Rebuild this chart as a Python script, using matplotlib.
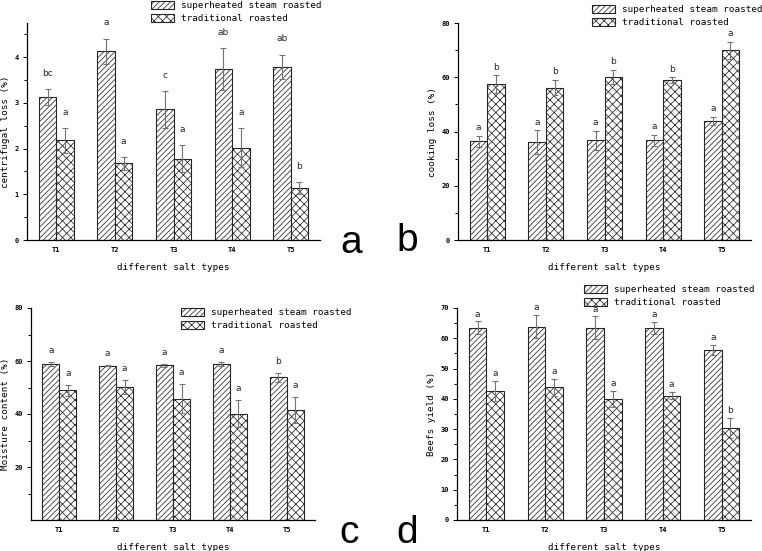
import matplotlib.pyplot as plt
import numpy as np

plt.rcParams['hatch.linewidth'] = 0.55
plt.rcParams['hatch.color'] = '0.3'

groups = ['T1', 'T2', 'T3', 'T4', 'T5']
series_names = ['superheated steam roasted', 'traditional roasted']

# a - centrifugal loss
cent_ss = [3.13, 4.13, 2.86, 3.75, 3.79]
cent_ss_err = [0.17, 0.28, 0.40, 0.46, 0.27]
cent_tr = [2.18, 1.68, 1.78, 2.02, 1.14]
cent_tr_err = [0.27, 0.14, 0.30, 0.43, 0.13]
cent_ss_sig = ['bc', 'a', 'c', 'ab', 'ab']
cent_tr_sig = ['a', 'a', 'a', 'a', 'b']

# b - cooking loss
cook_ss = [36.4, 36.1, 36.7, 36.7, 43.9]
cook_ss_err = [2.1, 4.4, 3.5, 2.1, 1.6]
cook_tr = [57.5, 56.2, 60.2, 59.0, 69.9]
cook_tr_err = [3.3, 2.9, 2.6, 1.0, 3.2]
cook_ss_sig = ['a', 'a', 'a', 'a', 'a']
cook_tr_sig = ['b', 'b', 'b', 'b', 'a']

# c - moisture content
moist_ss = [58.9, 58.2, 58.4, 58.9, 53.8]
moist_ss_err = [0.6, 0.2, 0.5, 0.8, 1.7]
moist_tr = [49.0, 50.2, 45.8, 40.1, 41.5]
moist_tr_err = [2.1, 2.7, 5.4, 5.1, 4.9]
moist_ss_sig = ['a', 'a', 'a', 'a', 'b']
moist_tr_sig = ['a', 'a', 'a', 'a', 'a']

# d - beefs yield
yield_ss = [63.5, 63.8, 63.4, 63.4, 56.2]
yield_ss_err = [2.1, 3.8, 3.8, 2.1, 1.7]
yield_tr = [42.7, 43.8, 40.0, 41.1, 30.3]
yield_tr_err = [3.3, 2.7, 2.6, 1.2, 3.3]
yield_ss_sig = ['a', 'a', 'a', 'a', 'a']
yield_tr_sig = ['a', 'a', 'a', 'a', 'b']

W, H = 762, 551
fig = plt.figure(figsize=(W / 100, H / 100), dpi=100)
MONO = 'DejaVu Sans Mono'


def px_axes(left, top, right, bottom):
    return fig.add_axes([left / W, 1 - bottom / H, (right - left) / W, (bottom - top) / H])


def panel(ax, ss, ss_err, tr, tr_err, ss_sig, tr_sig, ylabel, ylim, major, minor,
          leg_xy, sig_off):
    x = np.arange(1, len(groups) + 1)
    bw = 0.30
    b1 = ax.bar(x - bw / 2, ss, bw, color='white', edgecolor='0.15', linewidth=0.8,
                hatch='//////', label=series_names[0], zorder=2)
    b2 = ax.bar(x + bw / 2, tr, bw, color='white', edgecolor='0.15', linewidth=0.8,
                hatch='xxxx', label=series_names[1], zorder=2)
    ax.errorbar(x - bw / 2, ss, yerr=ss_err, fmt='none', ecolor='0.45', elinewidth=0.8,
                capsize=2.5, capthick=0.8, zorder=3)
    ax.errorbar(x + bw / 2, tr, yerr=tr_err, fmt='none', ecolor='0.45', elinewidth=0.8,
                capsize=2.5, capthick=0.8, zorder=3)
    for xi, v, e, s in zip(x - bw / 2, ss, ss_err, ss_sig):
        ax.annotate(s, (xi, v + e), xytext=(0, sig_off), textcoords='offset points',
                    ha='center', va='bottom', fontsize=6.5, color='0.15')
    for xi, v, e, s in zip(x + bw / 2, tr, tr_err, tr_sig):
        ax.annotate(s, (xi, v + e), xytext=(0, sig_off), textcoords='offset points',
                    ha='center', va='bottom', fontsize=6.5, color='0.15')

    ax.set_xlim(0.5, 5.5)
    ax.set_ylim(*ylim)
    ax.set_xticks(x)
    ax.set_xticklabels(groups, fontsize=5, family=MONO, fontweight='bold')
    ax.tick_params(axis='x', length=0, pad=5)
    ax.set_yticks(major)
    ax.set_yticks(minor, minor=True)
    ax.tick_params(axis='y', labelsize=5, length=3, width=0.7, direction='out', pad=3)
    ax.tick_params(axis='y', which='minor', length=2, width=0.7)
    for t in ax.get_yticklabels():
        t.set_family(MONO)
        t.set_fontweight('bold')
    for side in ['top', 'right']:
        ax.spines[side].set_visible(False)
    for side in ['left', 'bottom']:
        ax.spines[side].set_linewidth(0.9)
    ax.set_xlabel('different salt types', fontsize=6.7, family=MONO, labelpad=7)
    ax.set_ylabel(ylabel, fontsize=6.7, family=MONO, labelpad=3)
    fig.legend(handles=[b1, b2], loc='upper left',
               bbox_to_anchor=(leg_xy[0] / W, 1 - leg_xy[1] / H),
               bbox_transform=fig.transFigure, frameon=False,
               prop={'family': MONO, 'size': 6.7}, handlelength=2.5, handleheight=0.9,
               handletextpad=0.7, labelspacing=0.45, borderpad=0, borderaxespad=0)


ax_a = px_axes(27, 23, 320, 240)
panel(ax_a, cent_ss, cent_ss_err, cent_tr, cent_tr_err, cent_ss_sig, cent_tr_sig,
      'centrifugal loss (%)', (0, 4.75), [0, 1, 2, 3, 4], np.arange(0.5, 4.6, 1.0),
      (151, 1), 8)

ax_b = px_axes(458, 23, 751, 240)
panel(ax_b, cook_ss, cook_ss_err, cook_tr, cook_tr_err, cook_ss_sig, cook_tr_sig,
      'cooking loss (%)', (0, 80), [0, 20, 40, 60, 80], [10, 30, 50, 70],
      (592, 5), 2.5)

ax_c = px_axes(31, 308, 315, 520)
panel(ax_c, moist_ss, moist_ss_err, moist_tr, moist_tr_err, moist_ss_sig, moist_tr_sig,
      'Moisture content (%)', (0, 80), [20, 40, 60, 80], [10, 30, 50, 70],
      (181, 308), 5)

ax_d = px_axes(457, 308, 751, 520)
panel(ax_d, yield_ss, yield_ss_err, yield_tr, yield_tr_err, yield_ss_sig, yield_tr_sig,
      'Beefs yield (%)', (0, 70), np.arange(0, 71, 10), np.arange(5, 70, 10),
      (584, 285), 2)

# panel letters
for lab, px, py in [('a', 340, 253), ('b', 396, 251), ('c', 339, 543), ('d', 396, 543)]:
    fig.text(px / W, 1 - py / H, lab, fontsize=28, family='Liberation Sans',
             ha='left', va='baseline')

fig.savefig('out.png', dpi=100)
